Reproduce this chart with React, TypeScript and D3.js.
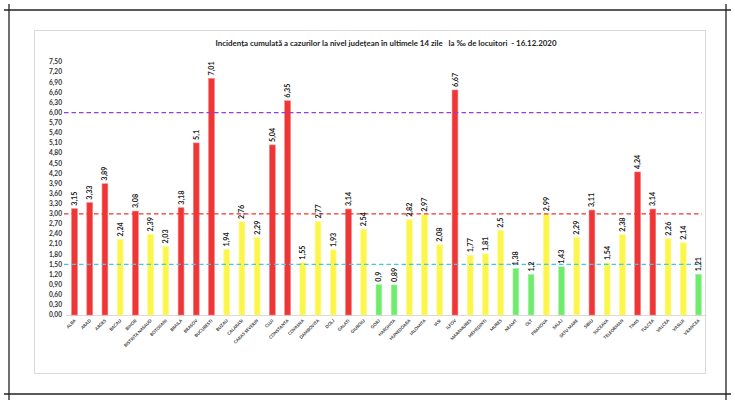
import React from "react";
import * as d3 from "d3";

const counties = [
  "ALBA", "ARAD", "ARGES", "BACAU", "BIHOR", "BISTRITA NASAUD", "BOTOSANI", "BRAILA", "BRASOV", "BUCURESTI",
  "BUZAU", "CALARASI", "CARAS SEVERIN", "CLUJ", "CONSTANTA", "COVASNA", "DAMBOVITA", "DOLJ", "GALATI", "GIURGIU",
  "GORJ", "HARGHITA", "HUNEDOARA", "IALOMITA", "IASI", "ILFOV", "MARAMURES", "MEHEDINTI", "MURES", "NEAMT",
  "OLT", "PRAHOVA", "SALAJ", "SATU MARE", "SIBIU", "SUCEAVA", "TELEORMAN", "TIMIS", "TULCEA", "VALCEA",
  "VASLUI", "VRANCEA",
];

const values = [
  3.15, 3.33, 3.89, 2.24, 3.08, 2.39, 2.03, 3.18, 5.1, 7.01,
  1.94, 2.76, 2.29, 5.04, 6.35, 1.55, 2.77, 1.93, 3.14, 2.54,
  0.9, 0.89, 2.82, 2.97, 2.08, 6.67, 1.77, 1.81, 2.5, 1.38,
  1.2, 2.99, 1.43, 2.29, 3.11, 1.54, 2.38, 4.24, 3.14, 2.26,
  2.14, 1.21,
];

const yTicks = d3.range(0, 26).map((i) => +(i * 0.3).toFixed(2));
const thresholds = [
  { value: 6.0, color: "#9a3ad8" },
  { value: 3.0, color: "#ee3535" },
  { value: 1.5, color: "#45c6ea" },
];

const title = "Incidența cumulată a cazurilor la nivel județean în ultimele 14 zile   la ‰ de locuitori  - 16.12.2020";

const fmt = (v: number) => String(v).replace(".", ",");
const fmtTick = (v: number) => v.toFixed(2).replace(".", ",");

function barColor(v: number) {
  if (v > 3) return { fill: "#ef3636", stroke: "#f77a7a" };
  if (v >= 1.5) return { fill: "#fdf64a", stroke: "#fdf98a" };
  return { fill: "#6fec6c", stroke: "#a6f4a4" };
}

export default function App() {
  const x = d3
    .scaleBand<string>()
    .domain(counties)
    .range([66.9, 706.1])
    .paddingInner(0.62)
    .paddingOuter(0.31);
  const y = d3.scaleLinear().domain([0, 7.5]).range([315, 62]);
  const font = "Lato, 'Open Sans', sans-serif";
  const bw = x.bandwidth();

  return (
    <svg
      width={735}
      height={404}
      style={{ position: "absolute", left: 0, top: 0, background: "#fff" }}
      fontFamily={font}
    >
      {/* crop-mark style outer frame */}
      <line x1={4} x2={731} y1={10} y2={10} stroke="#222" strokeWidth={1.3} />
      <line x1={4} x2={731} y1={394} y2={394} stroke="#222" strokeWidth={1.3} />
      <line x1={9} x2={9} y1={4} y2={400} stroke="#222" strokeWidth={1.3} />
      <line x1={726} x2={726} y1={4} y2={400} stroke="#222" strokeWidth={1.3} />

      {/* chart area frame */}
      <rect x={34.5} y={30.5} width={671} height={343} fill="#fff" stroke="#d9d9d9" strokeWidth={1} />

      <text
        x={386}
        y={46}
        textAnchor="middle"
        fontSize={7.9}
        fontWeight={700}
        fill="#222"
        style={{ whiteSpace: "pre" }}
      >
        {title}
      </text>

      {/* y axis labels */}
      {yTicks.map((t) => (
        <text
          key={t}
          x={62}
          y={y(t)}
          dy="0.35em"
          textAnchor="end"
          fontSize={6.6}
          fontWeight={700}
          fill="#333"
        >
          {fmtTick(t)}
        </text>
      ))}

      {/* baseline */}
      <line x1={66} x2={705} y1={y(0) + 0.5} y2={y(0) + 0.5} stroke="#d9d9d9" strokeWidth={1} />

      {/* bars */}
      {counties.map((c, i) => {
        const v = values[i];
        const col = barColor(v);
        const bx = x(c)!;
        return (
          <rect
            key={c}
            x={bx}
            y={y(v)}
            width={bw}
            height={y(0) - y(v)}
            fill={col.fill}
            stroke={col.stroke}
            strokeWidth={0.6}
          />
        );
      })}

      {/* threshold dashed lines */}
      {thresholds.map((t) => (
        <line
          key={t.value}
          x1={64}
          x2={702}
          y1={y(t.value)}
          y2={y(t.value)}
          stroke={t.color}
          strokeWidth={1.3}
          strokeDasharray="4.5 3"
        />
      ))}

      {/* value labels */}
      {counties.map((c, i) => {
        const v = values[i];
        const cx = x(c)! + bw / 2;
        const ty = y(v) - 3;
        return (
          <text
            key={c}
            transform={`translate(${cx},${ty}) rotate(-90)`}
            dy="0.35em"
            fontSize={7.2}
            fontWeight={700}
            fill="#222"
          >
            {fmt(v)}
          </text>
        );
      })}

      {/* category labels */}
      {counties.map((c) => {
        const cx = x(c)! + bw / 2 + 1.5;
        const ty = y(0) + 6;
        return (
          <text
            key={c}
            transform={`translate(${cx},${ty}) rotate(-45)`}
            textAnchor="end"
            fontSize={4.3}
            fontWeight={700}
            fill="#333"
          >
            {c}
          </text>
        );
      })}
    </svg>
  );
}
